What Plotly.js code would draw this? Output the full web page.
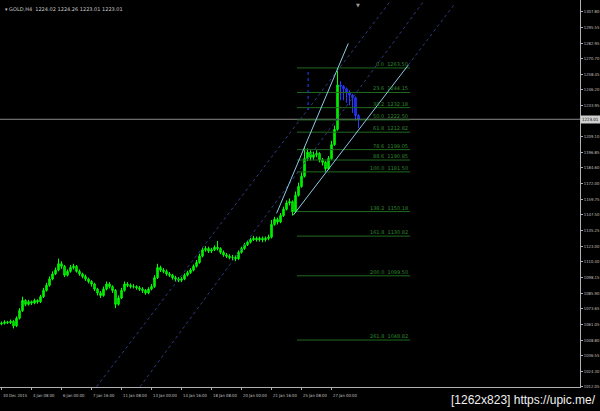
<!DOCTYPE html>
<html><head><meta charset="utf-8">
<script src="https://cdn.plot.ly/plotly-3.0.1.min.js"></script>
<style>html,body{margin:0;padding:0;background:#000;}#chart{width:600px;height:411px;}</style>
</head><body><div id="chart"></div>
<script>
// ---- data ----
const closes = [1062,1063,1062.5,1063.5,1060,1066,1072,1080,1077,1079,
 1078,1080,1079,1083,1088,1092,1097,1101,1104,1109,
 1107,1100,1103,1106,1107,1103,1101,1099,1097,1095,
 1093,1089,1086,1084,1089,1093,1091,1088,1077,1082,
 1088,1093,1092,1091,1091,1090,1089,1088,1086,1089,
 1091,1098,1106,1104,1103,1101,1100,1098,1097,1096,
 1097,1100,1102,1104,1107,1110,1115,1120,1121,1119,
 1120,1122,1121,1118,1116,1115,1114,1114,1113,1118,
 1121,1124,1126,1128,1129,1128,1129,1128,1129,1130,
 1140,1144,1142,1147,1152,1157,1158,1150,1163,1170,
 1178,1192,1197,1193,1195,1196,1191,1189,1184,1192,
 1203,1215,1250,1249,1247,1244,1242,1240,1226,1223.01];
const firstOpen = 1061.5;
const highs = [1063.5,1064.5,1064,1065,1064.5,1067.5,1074,1083,1081,1080.5,
 1080,1081.5,1081,1084.5,1090,1094,1099,1103,1106,1113,
 1111,1108,1104.5,1108,1109,1108,1104.5,1102,1100.5,1098,
 1096,1094,1090,1087.5,1091,1095,1094.5,1092,1089,1084,
 1090,1095,1094.5,1093.5,1093,1092,1091.5,1090.5,1089,1090.5,
 1093,1100,1109,1107.5,1105.5,1104.5,1102.5,1101,1099.5,1098.5,
 1098.5,1101.5,1103.5,1105.5,1108.5,1112,1117,1122,1123,1122.5,
 1121.5,1123.5,1127,1122,1119.5,1117.5,1116.5,1116,1115.5,1119.5,
 1122.5,1125.5,1127.5,1129.5,1131,1130.5,1130.5,1130.5,1130.5,1132,
 1143.5,1146,1145.5,1149,1154,1159,1160.5,1159,1166,1173,
 1181,1201.5,1200,1198.5,1197.5,1198.5,1197,1192.5,1190,1194,
 1206,1218,1263.5,1253,1250,1248,1246,1243,1241,1227];
const lows = [1060.5,1061,1061.5,1061.5,1058,1059,1065,1071,1075.5,1076,
 1076.5,1077,1077.5,1078,1082,1087,1091,1096,1100,1103,
 1105,1098.5,1099,1102,1104.5,1102,1099.5,1097.5,1095.5,1093.5,
 1091,1087.5,1084,1082,1083,1088,1089.5,1086,1074,1076,
 1081,1087,1090.5,1089.5,1089.5,1088.5,1087.5,1086,1084.5,1085,
 1088,1090,1097,1102.5,1101.5,1099.5,1098.5,1096.5,1095,1094.5,
 1094.5,1096,1099,1101,1103,1106,1109,1114,1118.5,1117.5,
 1117.5,1119,1119.5,1116.5,1114.5,1113.5,1112.5,1112,1111,1112,
 1117,1120,1123,1125,1127,1126.5,1126.5,1126,1126.5,1127.5,
 1129,1139,1140,1141,1146,1151,1155,1147,1149,1162,
 1169,1177,1190,1190.5,1191,1193,1189,1186.5,1181.5,1183,
 1191,1202,1214,1238,1238,1236,1234,1228,1222,1216];
const blueFrom = 113;              // bars after the peak are drawn blue
const lastPrice = 1223.01;

const yTickValues = [1307.80,1295.55,1282.95,1270.70,1258.45,1246.20,1233.95,1209.10,
 1196.85,1184.60,1172.00,1159.75,1147.50,1135.25,1123.00,1110.40,1098.15,1085.90,1073.65,
 1061.05,1048.80,1036.55,1024.30,1012.05];
const xTickBars = [0,10,20,30,40,50,60,70,80,90,100,110];
const xTickLabels = ["30 Dec 2015","4 Jan 08:00","6 Jan 00:00","7 Jan 16:00","11 Jan 08:00","13 Jan 00:00",
 "14 Jan 16:00","18 Jan 08:00","20 Jan 00:00","21 Jan 16:00","25 Jan 08:00","27 Jan 00:00"];

// Fibonacci object
const fibLevels = [0,23.6,38.2,50,61.8,78.6,88.6,100,138.2,161.8,200,261.8];
const fibHigh = 1263.5, fibLow = 1181.5;
const fibBars = [98.5, 136.2];

// trend lines (bar index, price)
const upperLineX = [91.7,115.6], upperLineY = [1148.8,1282.9];
const lowerLineX = [97.3,135.6], lowerLineY = [1147.5,1265.8];
const lowerRayX = [135.6,151.2], lowerRayY = [1265.8,1314.5];
const chan1X = [31.7,129.5], chan1Y = [1012.0,1315.8];
const chan2X = [46.2,140.6], chan2Y = [1012.0,1315.8];
const vLineX = [102.2,102.2], vLineY = [1260.3,1230.3];

const title = "GOLD,H4  1224.02 1224.26 1223.01 1223.01";
const watermark = "[1262x823] https://upic.me/";

// ---- build ----
const xs = closes.map((c,i)=>i);
const opens = closes.map((c,i)=> i===0 ? firstOpen : closes[i-1]);
function part(a,b){return {x:xs.slice(a,b),open:opens.slice(a,b),high:highs.slice(a,b),low:lows.slice(a,b),close:closes.slice(a,b)};}
const g = part(0,blueFrom), bl = part(blueFrom,closes.length);
const traces = [
 Object.assign({type:'candlestick',
  increasing:{line:{color:'#00ff00',width:1},fillcolor:'#00e000'},
  decreasing:{line:{color:'#00ff00',width:1},fillcolor:'#00b000'},
  whiskerwidth:0, hoverinfo:'skip', showlegend:false}, g),
 Object.assign({type:'candlestick',
  increasing:{line:{color:'#2a3cff',width:1},fillcolor:'#1020ff'},
  decreasing:{line:{color:'#2a3cff',width:1},fillcolor:'#1020ff'},
  whiskerwidth:0, hoverinfo:'skip', showlegend:false}, bl)
];

const shapes = [];
const annotations = [];
function seg(x,y,color,dash,width){shapes.push({type:'line',xref:'x',yref:'y',x0:x[0],x1:x[1],y0:y[0],y1:y[1],line:{color:color,width:width||1,dash:dash||'solid'}});}
// last price line
shapes.push({type:'line',xref:'paper',yref:'y',x0:0,x1:1,y0:lastPrice,y1:lastPrice,line:{color:'#8a8a8a',width:1}});
// fib
fibLevels.forEach(l=>{
  const p = fibHigh-(fibHigh-fibLow)*l/100;
  seg(fibBars,[p,p],'#1f6a1f','solid',1);
  annotations.push({xref:'x',yref:'y',x:fibBars[1],y:p,xanchor:'right',yanchor:'bottom',showarrow:false,
    text:l.toFixed(1)+'  '+p.toFixed(2),font:{family:'DejaVu Sans',size:5,color:'#2f8a2f'},yshift:-1});
});
seg(chan1X,chan1Y,'#2e3a80','dot',1);
seg(chan2X,chan2Y,'#2e3a80','dot',1);
seg(lowerRayX,lowerRayY,'#2e3a80','dot',1);
seg(vLineX,vLineY,'#2040ff','dot',1);
seg(upperLineX,upperLineY,'#8ccbe6','solid',1);
seg(lowerLineX,lowerLineY,'#8ccbe6','solid',1);

// x labels, left-aligned at their ticks as in MT4
xTickBars.forEach((b,i)=>{
  annotations.push({xref:'x',yref:'paper',x:b,y:-4/387,xanchor:'left',yanchor:'top',showarrow:false,xshift:-1,
    text:xTickLabels[i],font:{family:'DejaVu Sans Condensed, DejaVu Sans',size:4.2,color:'#c0c0c0'}});
});

annotations.push({xref:'paper',yref:'paper',x:0.006,y:0.977,xanchor:'left',yanchor:'middle',showarrow:false,
  text:'▾ '+title,font:{family:'DejaVu Sans',size:5,color:'#c8c8c8'}});
annotations.push({xref:'paper',yref:'y',x:1,y:lastPrice,xanchor:'left',yanchor:'middle',showarrow:false,
  text:lastPrice.toFixed(2),bgcolor:'#d0d0d0',borderpad:1,font:{family:'DejaVu Sans Condensed, DejaVu Sans',size:4.4,color:'#000'}});
annotations.push({xref:'paper',yref:'paper',x:598/580,y:-13/387,xanchor:'right',yanchor:'middle',showarrow:false,
  text:watermark,font:{family:'Liberation Sans',size:12,color:'#f0f0f0'}});
annotations.push({xref:'x',yref:'paper',x:118.8,y:1,xanchor:'center',yanchor:'top',showarrow:false,
  text:'▼',font:{family:'DejaVu Sans',size:5,color:'#9a9a9a'}});

const layout = {
  width:600,height:411,
  margin:{l:0,r:20,t:0,b:24},
  paper_bgcolor:'#000',plot_bgcolor:'#000',
  showlegend:false,hovermode:false,
  xaxis:{range:[-0.5,192.83],rangeslider:{visible:false},showgrid:false,zeroline:false,
    showline:true,linecolor:'#b0b0b0',linewidth:1,ticks:'outside',ticklen:2,tickcolor:'#b0b0b0',
    tickmode:'array',tickvals:xTickBars,showticklabels:false,automargin:false,fixedrange:true},
  yaxis:{range:[1011.77,1317.11],side:'right',showgrid:false,zeroline:false,automargin:false,
    showline:true,linecolor:'#b0b0b0',linewidth:1,ticks:'outside',ticklen:2,tickcolor:'#b0b0b0',
    tickmode:'array',tickvals:yTickValues,ticktext:yTickValues.map(v=>v.toFixed(2)),
    tickfont:{family:'DejaVu Sans Condensed, DejaVu Sans',size:4.2,color:'#c0c0c0'},fixedrange:true},
  shapes:shapes,annotations:annotations
};
Plotly.newPlot('chart',traces,layout,{staticPlot:true,displayModeBar:false});
</script></body></html>
